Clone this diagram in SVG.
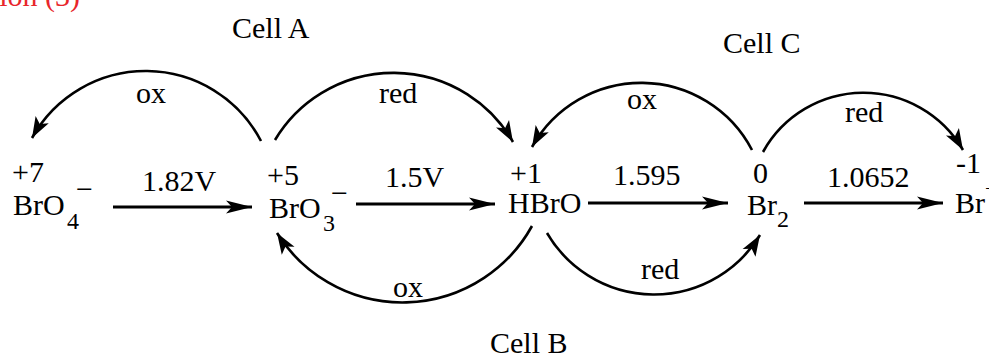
<svg xmlns="http://www.w3.org/2000/svg" width="989" height="359" viewBox="0 0 989 359">
  <style>
    text { font-family: "Liberation Serif", "Times New Roman", serif; font-size: 30px; fill: #000; }
    .sub { font-size: 24px; }
    .title { fill: #e8262b; font-size: 30px; }
    .straight { stroke: #000; stroke-width: 3.2; fill: none; marker-end: url(#head); }
    .curve { stroke: #000; stroke-width: 2.6; fill: none; marker-end: url(#chead); }
  </style>
  <defs>
    <marker id="head" markerUnits="userSpaceOnUse" markerWidth="30" markerHeight="16" viewBox="-26 -8 30 16" refX="0" refY="0" orient="auto">
      <path d="M0,0 L-26,-6.5 L-20,0 L-26,6.5 Z" fill="#000"/>
    </marker>
    <marker id="chead" markerUnits="userSpaceOnUse" markerWidth="26" markerHeight="18" viewBox="-22 -9 26 18" refX="0" refY="0" orient="auto">
      <path d="M0,0 L-21,-7.5 L-16,0 L-21,7.5 Z" fill="#000"/>
    </marker>
  </defs>

  <text class="title" x="80" y="6" text-anchor="end">Solution (3)</text>

  <g id="connectors">
    <path id="arrow-182" class="straight" d="M113,207 L252,207"/>
    <path id="arrow-15" class="straight" d="M356,204 L495,204"/>
    <path id="arrow-1595" class="straight" d="M588,203 L728,203"/>
    <path id="arrow-10652" class="straight" d="M804,203 L943,203"/>

    <path id="cellA-ox" class="curve" d="M261,141 A130,130 0 0 0 32,138"/>
    <path id="cellA-red" class="curve" d="M275,140 A138,138 0 0 1 513,142"/>
    <path id="cellC-ox" class="curve" d="M752,150 A125,125 0 0 0 532,147"/>
    <path id="cellC-red" class="curve" d="M763,152 A115,115 0 0 1 963,150"/>
    <path id="cellB-ox" class="curve" d="M532,226 A148,148 0 0 1 277,233"/>
    <path id="cellB-red" class="curve" d="M547,233 A124,124 0 0 0 760,235"/>

    <text x="136" y="103">ox</text>
    <text x="379" y="103">red</text>
    <text x="627" y="109">ox</text>
    <text x="845" y="122">red</text>
    <text x="393" y="297">ox</text>
    <text x="641" y="279">red</text>

    <text x="142" y="191">1.82V</text>
    <text x="385" y="187">1.5V</text>
    <text x="613" y="185">1.595</text>
    <text x="827" y="187">1.0652</text>
  </g>

  <g id="cell-labels">
    <text x="232" y="38">Cell A</text>
    <text x="490" y="353">Cell B</text>
    <text x="723" y="53">Cell C</text>
  </g>

  <g id="node-BrO4">
    <text x="12" y="182">+7</text>
    <text x="13" y="215">BrO</text>
    <text class="sub" x="67" y="229">4</text>
    <text x="76" y="199">−</text>
  </g>

  <g id="node-BrO3">
    <text x="267" y="185">+5</text>
    <text x="269" y="218">BrO</text>
    <text class="sub" x="323" y="231">3</text>
    <text x="331" y="203">−</text>
  </g>

  <g id="node-HBrO">
    <text x="510" y="183">+1</text>
    <text x="508" y="213">HBrO</text>
  </g>

  <g id="node-Br2">
    <text x="753" y="183">0</text>
    <text x="747" y="215">Br</text>
    <text class="sub" x="777" y="227">2</text>
  </g>

  <g id="node-Br">
    <text x="956" y="173">-1</text>
    <text x="955" y="213">Br<tspan dy="-18" style="font-size:20px">−</tspan></text>
  </g>
</svg>
